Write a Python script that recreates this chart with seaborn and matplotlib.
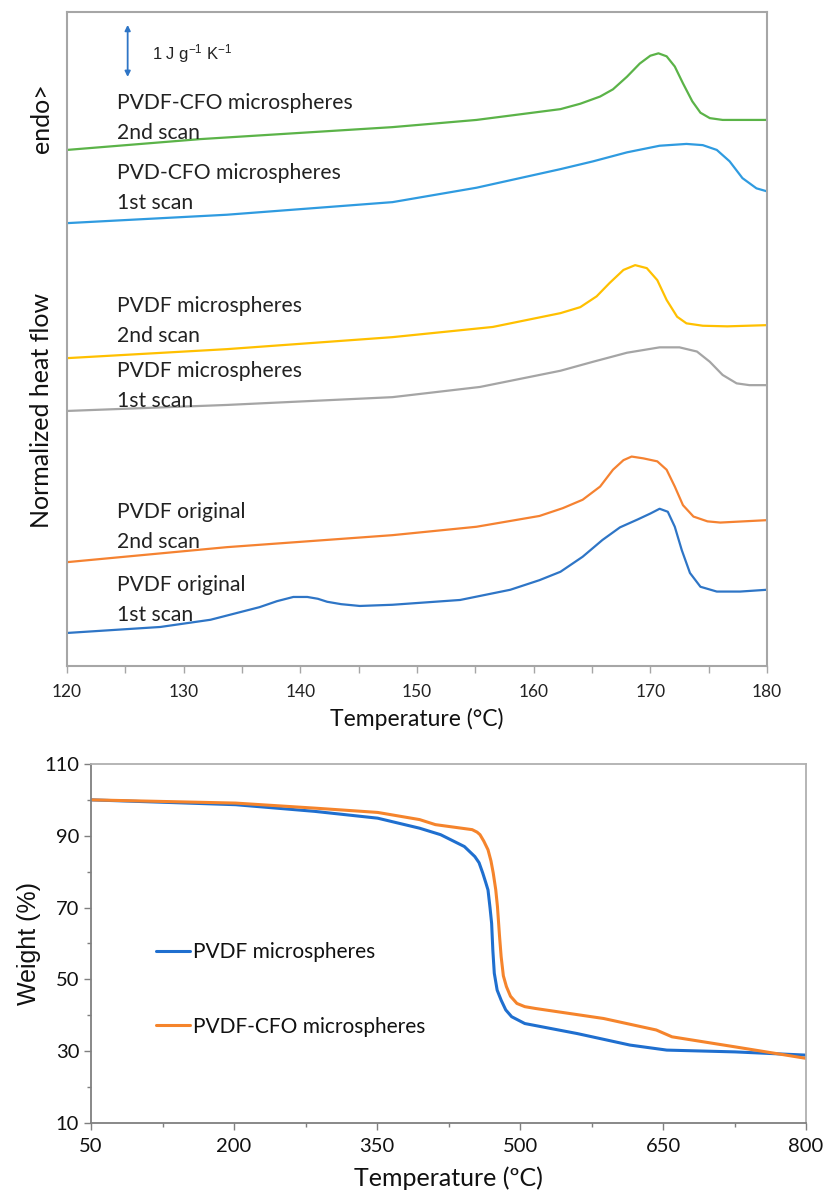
import numpy as np
import pandas as pd
import matplotlib
matplotlib.use("Agg")
import matplotlib.pyplot as plt
import seaborn as sns
from matplotlib.ticker import MultipleLocator

sns.set_theme(style="white")
plt.rcParams['font.family'] = ['Lato', 'DejaVu Sans']
plt.rcParams['mathtext.default'] = 'regular'

# ---------------- DSC data (Temperature in °C, normalized heat flow in J/g/K, offset) -------------
t_cfo2 = [120.0, 131.4, 147.9, 155.1, 162.3, 164.0, 165.7, 166.8, 168.0, 169.1, 170.0, 170.7,
          171.4, 172.1, 172.8, 173.6, 174.3, 175.1, 176.2, 180.0]
h_cfo2 = [8.60, 8.78, 8.98, 9.10, 9.28, 9.37, 9.49, 9.61, 9.82, 10.04, 10.17, 10.21,
          10.16, 9.99, 9.71, 9.41, 9.22, 9.13, 9.10, 9.10]

t_cfo1 = [120.0, 133.7, 147.9, 155.1, 162.3, 165.1, 168.0, 170.8, 173.1, 174.5, 175.7, 176.8,
          177.9, 179.1, 180.0]
h_cfo1 = [7.38, 7.52, 7.73, 7.97, 8.28, 8.41, 8.56, 8.67, 8.70, 8.68, 8.60, 8.41,
          8.13, 7.96, 7.91]

t_pm2 = [120.0, 133.7, 147.9, 156.5, 162.3, 164.0, 165.4, 166.5, 167.7, 168.7, 169.7, 170.6,
         171.4, 172.3, 173.1, 174.5, 176.6, 180.0]
h_pm2 = [5.13, 5.28, 5.48, 5.65, 5.88, 5.98, 6.16, 6.38, 6.60, 6.68, 6.63, 6.43,
         6.10, 5.82, 5.71, 5.67, 5.66, 5.68]

t_pm1 = [120.0, 133.7, 147.9, 155.4, 162.3, 165.1, 168.0, 170.8, 172.5, 174.0, 175.1, 176.2,
         177.4, 178.5, 180.0]
h_pm1 = [4.25, 4.35, 4.48, 4.65, 4.92, 5.07, 5.22, 5.31, 5.31, 5.24, 5.07, 4.85,
         4.71, 4.68, 4.68]

t_po2 = [120.0, 133.7, 147.9, 155.1, 160.5, 162.5, 164.2, 165.7, 166.8, 167.7, 168.4, 169.4,
         170.6, 171.4, 172.1, 172.8, 173.7, 174.9, 176.0, 180.0]
h_po2 = [1.73, 1.98, 2.18, 2.32, 2.50, 2.63, 2.77, 2.99, 3.27, 3.43, 3.49, 3.46,
         3.41, 3.27, 2.99, 2.68, 2.49, 2.41, 2.39, 2.43]

t_po1 = [120.0, 128.0, 132.3, 136.5, 138.0, 139.4, 140.6, 141.5, 142.3, 143.5, 145.1, 147.9,
         153.7, 158.0, 160.5, 162.3, 164.2, 165.9, 167.4, 168.9, 170.0, 170.8, 171.5, 172.1,
         172.7, 173.4, 174.3, 175.7, 177.7, 180.0]
h_po1 = [0.55, 0.65, 0.77, 0.98, 1.08, 1.15, 1.15, 1.12, 1.07, 1.03, 1.00, 1.02,
         1.10, 1.27, 1.43, 1.57, 1.82, 2.10, 2.31, 2.44, 2.54, 2.62, 2.57, 2.32,
         1.93, 1.55, 1.32, 1.24, 1.24, 1.27]

dsc_labels = [("PVDF-CFO microspheres", "2nd scan"),
              ("PVD-CFO microspheres", "1st scan"),
              ("PVDF microspheres", "2nd scan"),
              ("PVDF microspheres", "1st scan"),
              ("PVDF original", "2nd scan"),
              ("PVDF original", "1st scan")]
dsc_colors = ["#5bb348", "#2f9be0", "#ffc000", "#a5a5a5", "#f58231", "#2e75c6"]
dsc_label_y = [9.13, 7.97, 5.75, 4.67, 2.32, 1.10]

# ---------------- TGA data ----------------
tga_t_pvdf = [50, 201.7, 284.4, 350.6, 394.7, 416.7, 441.6, 452.6, 457.0, 460.9, 464.0, 466.4,
              468.5, 470.2, 471.5, 473.0, 476.0, 480.2, 485.0, 491.2, 505.0, 560.1, 615.3,
              653.9, 725.6, 800]
tga_w_pvdf = [100, 98.65, 96.8, 94.9, 92.1, 90.3, 87.0, 84.2, 82.5, 79.6, 77.0, 74.9,
              70.0, 65.6, 58.0, 51.7, 47.0, 44.2, 41.5, 39.6, 37.7, 34.9, 31.7,
              30.3, 29.8, 28.9]
tga_t_cfo = [50, 201.7, 284.4, 350.6, 394.7, 411.2, 449.8, 455.0, 458.0, 462.0, 466.4, 469.5,
             471.9, 474.5, 476.3, 478.5, 480.2, 482.5, 485.7, 490.0, 496.7, 505.0, 516.0,
             587.7, 642.9, 659.4, 725.6, 800]
tga_w_cfo = [100, 99.1, 97.7, 96.5, 94.5, 93.1, 91.7, 91.0, 90.3, 88.5, 86.1, 83.0,
             79.6, 75.0, 70.3, 62.0, 56.3, 51.0, 48.0, 45.3, 43.3, 42.4, 41.9,
             39.1, 35.9, 34.0, 31.2, 28.0]
tga_labels = ["PVDF microspheres", "PVDF-CFO microspheres"]
tga_colors = ["#1f6fcf", "#f5842c"]

fig = plt.figure(figsize=(8.23, 11.92), dpi=100)

# ================= top panel: DSC =================
ax1 = fig.add_axes([0.0814, 0.4413, 0.8505, 0.5487])
series = [(t_cfo2, h_cfo2), (t_cfo1, h_cfo1), (t_pm2, h_pm2), (t_pm1, h_pm1), (t_po2, h_po2), (t_po1, h_po1)]
for (tt, hh), col in zip(series, dsc_colors):
    df = pd.DataFrame({"T": tt, "H": hh})
    sns.lineplot(data=df, x="T", y="H", ax=ax1, color=col, lw=1.6, estimator=None, sort=False)

ax1.set_xlim(120, 180)
ax1.set_ylim(0, 10.9)
ax1.set_yticks([])
ax1.xaxis.set_major_locator(MultipleLocator(10))
ax1.xaxis.set_minor_locator(MultipleLocator(5))
ax1.tick_params(axis='x', which='both', direction='out', bottom=True, length=5, width=1,
                color='#a6a6a6', labelsize=12.5, pad=8, labelcolor='#222222')
for sp in ax1.spines.values():
    sp.set_color('#a6a6a6')
    sp.set_linewidth(1.5)
ax1.set_xlabel("Temperature (°C)", fontsize=16.5, color='#111111', labelpad=6)
ax1.set_ylabel("")

for (l1, l2), yv in zip(dsc_labels, dsc_label_y):
    ax1.text(124.3, yv, l1 + "\n" + l2, fontsize=15.2, color='#222222', va='center', ha='left',
             linespacing=1.6)

ax1.annotate("", xy=(125.2, 10.73), xytext=(125.2, 9.77),
             arrowprops=dict(arrowstyle='<|-|>', color='#2e75c6', lw=1.3, mutation_scale=8))
ax1.text(127.3, 10.2, "1 J g$^{-1}$ K$^{-1}$", fontsize=12, family='Liberation Sans',
         color='#222222', va='center', ha='left')

fig.text(0.051, 0.656, "Normalized heat flow", rotation=90, fontsize=18, ha='center', va='center',
         color='#111111')
fig.text(0.051, 0.901, "endo>", rotation=90, fontsize=18, ha='center', va='center', color='#111111')

# ================= bottom panel: TGA =================
ax2 = fig.add_axes([0.1106, 0.0579, 0.8688, 0.3012])
for tt, ww, lab, col in [(tga_t_pvdf, tga_w_pvdf, tga_labels[0], tga_colors[0]),
                         (tga_t_cfo, tga_w_cfo, tga_labels[1], tga_colors[1])]:
    df = pd.DataFrame({"T": tt, "W": ww})
    sns.lineplot(data=df, x="T", y="W", ax=ax2, color=col, lw=2.2, estimator=None, sort=False, label=lab)

ax2.set_xlim(50, 800)
ax2.set_ylim(10, 110)
ax2.set_xticks([50, 200, 350, 500, 650, 800])
ax2.xaxis.set_minor_locator(MultipleLocator(75, offset=50))
ax2.set_yticks([10, 30, 50, 70, 90, 110])
ax2.yaxis.set_minor_locator(MultipleLocator(10))
ax2.tick_params(axis='both', which='major', direction='out', length=5, width=1, color='#7f7f7f',
                labelsize=14.5, labelcolor='#111111', bottom=True, left=True)
ax2.tick_params(axis='both', which='minor', direction='out', length=3, width=1, color='#7f7f7f',
                bottom=True, left=True)
ax2.tick_params(axis='x', pad=6)
for side in ['left', 'bottom']:
    ax2.spines[side].set_color('#7f7f7f')
    ax2.spines[side].set_linewidth(1.3)
for side in ['top', 'right']:
    ax2.spines[side].set_color('#b0b0b0')
    ax2.spines[side].set_linewidth(1.3)
ax2.set_xlabel("Temperature (ºC)", fontsize=18, color='#111111', labelpad=8)
ax2.set_ylabel("Weight (%)", fontsize=18, family='Liberation Sans', color='#111111', labelpad=2)

leg = ax2.legend(loc='upper left', bbox_to_anchor=(0.065, 0.555), frameon=False, fontsize=15,
                 handlelength=1.6, handletextpad=0.15, labelspacing=2.6)
for txt in leg.get_texts():
    txt.set_color('#111111')

fig.savefig("out.png", dpi=100)
